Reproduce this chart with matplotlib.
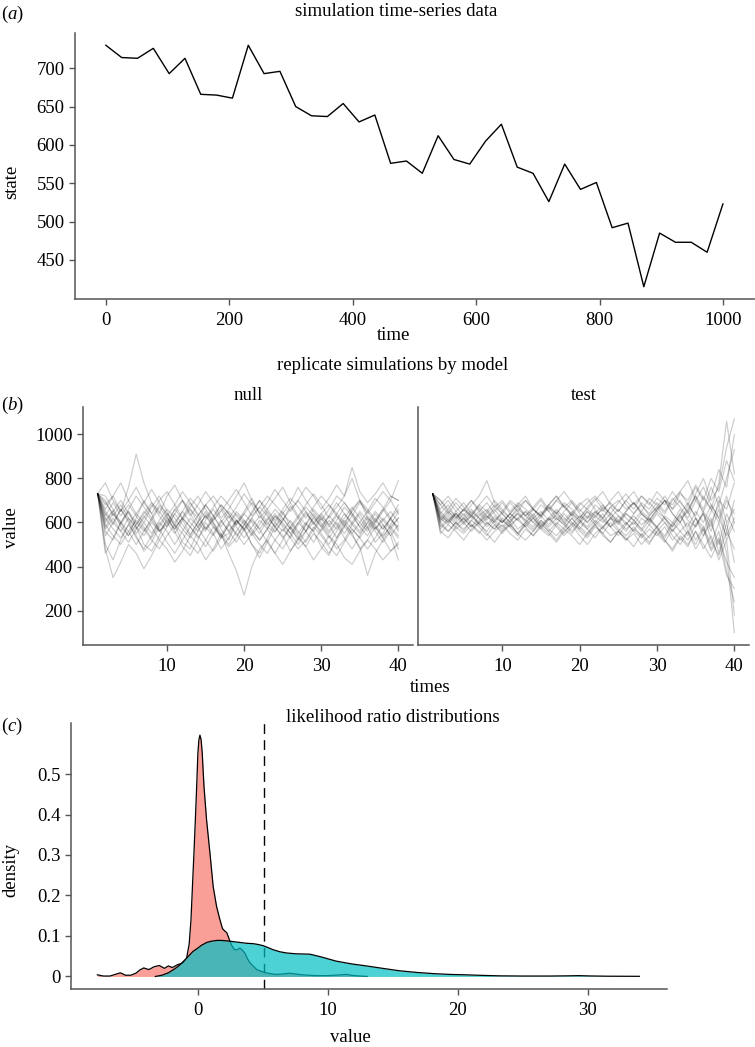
import matplotlib
matplotlib.use('Agg')
import matplotlib.pyplot as plt

plt.rcParams['font.family'] = ['Liberation Serif', 'DejaVu Serif']
plt.rcParams['mathtext.fontset'] = 'custom'
plt.rcParams['mathtext.rm'] = 'Liberation Serif'
plt.rcParams['mathtext.it'] = 'Liberation Serif:italic'

# ---------------- data ----------------
# (a) observed time series
obs_time = [0, 25.6, 51.3, 76.9, 102.6, 128.2, 153.8, 179.5, 205.1, 230.8,
            256.4, 282.1, 307.7, 333.3, 359.0, 384.6, 410.3, 435.9, 461.5, 487.2,
            512.8, 538.5, 564.1, 589.7, 615.4, 641.0, 666.7, 692.3, 717.9, 743.6,
            769.2, 794.9, 820.5, 846.2, 871.8, 897.4, 923.1, 948.7, 974.4, 1000]
obs_state = [730, 714, 713, 726, 693, 713, 666, 665, 661, 730,
             693, 696, 650, 638, 637, 654, 630, 639, 576, 579,
             563, 612, 581, 575, 605, 627, 571, 563, 526, 575,
             542, 551, 492, 498, 415, 485, 473, 473, 460, 523]

# (b) replicate simulations (times 1..40)
rep_times = list(range(1, 41))
null_runs = [
    [730,610,655,580,540,620,700,640,560,590,660,615,545,600,680,630,570,520,600,650,710,640,580,555,610,675,620,560,600,640,590,530,585,660,700,620,570,610,650,600],
    [730,560,520,600,650,580,500,470,540,620,590,510,480,560,640,600,530,550,610,570,500,460,530,600,650,580,520,560,630,590,540,480,520,590,640,580,510,550,620,560],
    [730,680,720,650,700,760,690,640,700,740,680,620,670,720,660,610,650,700,750,690,630,670,720,680,640,690,760,700,650,610,660,720,690,640,600,650,710,670,620,680],
    [730,500,430,520,590,540,470,510,580,630,560,490,450,520,600,550,480,530,610,570,500,440,510,580,540,470,520,590,560,490,450,530,600,550,480,520,580,530,470,500],
    [730,640,590,660,610,550,600,670,720,650,580,620,690,640,570,610,660,600,540,590,650,700,640,580,620,570,530,590,660,620,560,610,670,630,580,540,600,660,610,580],
    [730,780,700,650,760,910,780,690,640,720,770,700,630,680,740,690,620,660,720,780,700,640,690,750,700,650,700,760,720,660,710,770,720,850,740,690,730,780,720,700],
    [730,480,350,420,500,460,390,450,520,480,420,470,540,500,430,480,550,460,380,270,400,480,520,460,410,470,530,490,430,480,540,500,440,410,470,520,480,430,470,510],
    [730,620,570,530,590,640,600,550,610,660,620,570,530,580,630,590,540,600,650,610,560,520,570,630,600,550,500,560,620,580,530,580,640,600,560,620,590,540,580,620],
    [730,700,630,680,620,570,620,680,630,580,640,700,660,600,560,620,680,640,590,640,690,650,600,560,610,660,700,650,590,640,680,630,580,630,690,650,600,650,700,640],
    [730,540,600,660,600,530,480,540,600,560,500,560,620,580,520,470,530,590,550,500,550,610,570,520,480,540,600,560,510,570,630,590,530,480,540,600,560,510,560,480],
    [730,660,720,780,700,640,690,750,690,630,680,740,690,630,680,720,670,620,670,730,680,620,660,710,760,690,630,680,730,680,620,670,720,800,700,640,690,740,700,790],
    [730,590,540,500,560,610,570,520,480,540,590,550,500,460,520,580,540,490,530,590,550,500,460,520,570,530,480,520,580,540,490,450,510,570,530,480,530,590,540,430],
    [730,600,650,700,640,590,640,690,650,600,550,610,660,620,570,630,680,640,590,640,600,550,610,660,620,570,620,670,630,580,630,690,640,590,550,600,650,610,570,620],
    [730,720,660,600,540,590,650,610,560,600,660,700,640,580,630,580,530,590,640,600,540,590,650,600,560,610,560,510,570,630,590,640,690,640,580,630,580,530,590,650],
    [730,570,620,560,510,570,630,580,520,580,640,590,540,600,650,600,550,500,560,610,570,520,570,630,580,530,590,640,600,550,500,560,610,570,530,580,640,590,540,590],
    [730,650,600,560,620,580,540,600,560,610,570,620,580,530,580,540,600,650,610,560,610,570,620,580,640,600,550,600,560,620,580,630,590,550,600,560,610,570,620,660],
    [730,460,530,600,560,500,560,620,570,510,460,520,580,540,490,550,610,560,510,570,620,570,510,460,520,580,540,490,550,510,460,520,580,540,490,360,460,520,570,530],
    [730,690,640,600,660,720,670,620,680,640,590,650,710,670,620,670,720,680,630,590,640,700,660,610,660,710,670,620,670,720,680,640,600,650,700,660,610,660,720,700],
    [730,630,690,630,680,630,580,530,590,640,600,650,600,560,610,660,610,560,610,570,620,670,630,580,530,580,630,590,640,600,550,600,550,600,650,610,570,620,580,540],
    [730,580,640,590,650,600,560,610,670,620,570,620,580,630,680,630,580,630,580,530,580,630,590,640,590,550,600,650,600,560,610,570,620,670,620,570,620,570,620,570],
]
test_runs = [
    [730,640,600,650,620,580,630,660,610,640,600,650,610,580,630,670,620,590,640,610,650,600,570,620,660,620,590,640,600,650,620,580,640,690,620,560,650,720,600,660],
    [730,580,620,570,600,640,590,560,610,580,620,570,600,640,590,560,600,570,620,580,550,600,640,580,610,570,600,560,610,580,540,600,560,520,590,640,520,450,560,480],
    [730,680,640,690,650,700,660,620,670,700,650,690,660,630,680,650,700,670,630,680,710,660,620,670,700,660,690,650,710,680,640,700,740,680,760,700,800,740,880,790],
    [730,600,560,600,570,610,580,540,590,560,600,550,590,620,570,540,590,550,600,560,530,580,550,600,560,520,570,540,590,550,510,570,520,560,500,570,470,530,420,350],
    [730,620,660,630,590,630,670,630,600,650,620,660,630,600,640,680,640,610,650,620,660,630,600,640,610,650,690,640,610,660,700,640,600,680,630,720,660,600,700,640],
    [730,560,530,580,550,590,560,520,560,590,550,520,570,540,580,550,510,560,590,540,500,550,580,540,560,520,550,500,540,580,520,480,540,500,560,480,540,430,520,180],
    [730,660,700,650,690,640,680,720,670,640,690,650,700,660,630,680,720,670,640,690,660,700,740,680,650,700,660,720,680,740,700,660,730,700,770,710,660,780,1060,820],
    [730,620,590,640,600,630,590,620,660,610,580,620,650,600,570,620,590,640,600,570,620,650,610,580,630,600,560,620,590,640,600,560,620,650,580,640,560,660,520,600],
    [730,700,650,610,660,620,650,690,640,600,640,680,630,660,700,650,610,650,690,640,600,650,620,670,630,590,640,680,630,670,720,660,700,640,720,660,760,680,800,930],
    [730,590,560,600,640,590,550,600,570,610,580,540,590,560,610,570,540,580,620,570,540,590,550,510,560,600,560,530,570,540,580,520,560,600,520,580,480,560,380,240],
    [730,640,680,620,660,700,650,610,650,690,640,680,720,660,620,670,640,690,660,620,670,710,660,690,650,700,740,680,640,690,650,710,670,620,700,760,680,620,720,600],
    [730,610,640,600,560,610,640,600,570,620,590,550,600,630,580,610,650,600,560,600,630,590,620,580,540,590,630,590,620,570,530,590,640,560,620,540,600,500,640,560],
    [730,680,720,670,630,680,720,790,690,650,700,670,630,670,710,660,700,740,690,650,690,720,680,640,690,730,680,720,690,650,700,680,740,790,700,650,720,840,760,1000],
    [730,550,590,560,520,570,600,550,510,560,590,550,520,560,600,560,520,570,540,500,550,590,540,510,560,530,490,550,510,560,520,470,530,490,560,500,440,520,360,300],
    [730,630,600,640,610,650,620,590,630,600,640,610,580,620,650,610,630,600,640,610,580,630,660,620,590,640,610,650,620,580,630,600,660,610,580,650,600,680,560,700],
    [730,600,630,590,620,580,610,650,600,570,610,640,600,570,610,580,620,590,550,600,570,610,580,620,600,560,610,570,530,580,620,560,600,540,620,580,500,600,460,100],
    [730,700,660,710,670,630,680,650,700,660,620,670,700,660,630,680,720,670,700,660,620,680,650,700,740,680,640,690,660,710,680,740,690,650,730,800,700,760,940,1070],
    [730,650,610,580,620,660,620,580,620,600,640,610,650,620,580,620,660,620,590,630,600,640,680,630,600,640,610,570,630,670,620,580,630,580,650,600,680,620,540,620],
    [730,570,610,640,600,560,600,630,590,550,590,620,580,540,590,620,580,540,580,610,570,530,580,620,570,540,580,540,500,560,600,540,500,560,480,540,620,460,600,420],
    [730,610,650,620,660,630,600,640,680,640,600,640,610,660,630,590,640,680,630,600,650,620,670,640,600,650,690,640,610,660,700,640,600,660,720,640,580,700,660,780],
]

# (c) likelihood ratio densities
null_lr_x = [-7.77, -7.3, -6.8, -6.3, -6.0, -5.6, -5.2, -4.8, -4.5, -4.2, -3.8, -3.4, -3.0,
             -2.6, -2.3, -2.0, -1.6, -1.2, -0.9, -0.7, -0.56, -0.45, -0.33, -0.22, -0.12,
             -0.03, 0.05, 0.13, 0.22, 0.31, 0.44, 0.64, 0.90, 1.15, 1.41, 1.67, 1.87, 2.05,
             2.2, 2.35, 2.45, 2.6, 2.8, 3.0, 3.2, 3.4, 3.6, 3.8, 4.0, 4.5, 5.0, 5.5, 6.0,
             6.5, 7.0, 7.5, 8.0, 9.0, 10.0, 11.0, 11.4, 12.0, 13.0]
null_lr_d = [0.004, 0.001, 0.001, 0.006, 0.009, 0.003, 0.003, 0.008, 0.016, 0.021, 0.017, 0.024, 0.027,
             0.020, 0.026, 0.022, 0.029, 0.033, 0.045, 0.080, 0.140, 0.220, 0.305, 0.390, 0.470,
             0.550, 0.585, 0.596, 0.585, 0.550, 0.470, 0.387, 0.305, 0.222, 0.173, 0.140, 0.118, 0.112,
             0.108, 0.095, 0.086, 0.075, 0.066, 0.066, 0.070, 0.065, 0.057, 0.043, 0.033, 0.017, 0.011, 0.007, 0.005,
             0.006, 0.008, 0.006, 0.004, 0.002, 0.002, 0.004, 0.005, 0.002, 0.000]
test_lr_x = [-3.3, -2.8, -2.3, -1.9, -1.5, -1.15, -0.9, -0.64, -0.4, -0.12, 0.25, 0.65, 1.0, 1.42,
             1.8, 2.18, 2.7, 3.21, 3.7, 4.23, 4.6, 5.0, 5.4, 5.77, 6.28, 6.8, 7.5, 8.6, 9.5, 10.6,
             11.8, 12.95, 14.2, 15.5, 16.8, 18.1, 19.4, 20.6, 22.0, 23.2, 25.0, 27.0, 28.5, 29.3,
             30.2, 31.5, 33.97]
test_lr_d = [0.0, 0.003, 0.009, 0.017, 0.026, 0.037, 0.045, 0.054, 0.062, 0.068, 0.077, 0.084, 0.087, 0.089,
             0.089, 0.088, 0.086, 0.084, 0.082, 0.081, 0.079, 0.076, 0.071, 0.066, 0.061, 0.058, 0.056, 0.055, 0.048, 0.038,
             0.031, 0.026, 0.020, 0.014, 0.010, 0.007, 0.005, 0.004, 0.0025, 0.0015, 0.001, 0.001, 0.0015, 0.002,
             0.0012, 0.0006, 0.0003]
lr_threshold = 5.05

# ---------------- layout ----------------
W, H = 755, 1047
fig = plt.figure(figsize=(W / 100, H / 100), dpi=100)

FS = 13.5
SC = '#555555'

def box(l, t, r, b):
    return [l / W, 1 - b / H, (r - l) / W, (b - t) / H]

def ftext(x, y, s, **kw):
    fig.text(x / W, 1 - y / H, s, ha=kw.pop('ha', 'center'), va=kw.pop('va', 'center'),
             fontsize=kw.pop('fontsize', FS), **kw)

def style(ax):
    for s in ['top', 'right']:
        ax.spines[s].set_visible(False)
    for s in ['left', 'bottom']:
        ax.spines[s].set_color(SC)
        ax.spines[s].set_linewidth(1.1)
    ax.tick_params(length=4.5, width=1.0, color=SC, labelsize=FS, pad=3, labelcolor='black')
    ax.tick_params(axis='x', pad=5)

# ---- (a)
axa = fig.add_axes(box(75, 33, 755, 299))
style(axa)
axa.plot(obs_time, obs_state, color='black', lw=1.0)
axa.set_xlim(-50, 1052)
axa.set_ylim(399, 746)
axa.set_xticks([0, 200, 400, 600, 800, 1000])
axa.set_yticks([450, 500, 550, 600, 650, 700])
ftext(396, 12, 'simulation time-series data')
ftext(394, 335, 'time')
ftext(12, 182, 'state', rotation=90)
ftext(12, 14, r'$(\mathit{a})$')

# ---- (b)
axb1 = fig.add_axes(box(83, 407, 413, 645))
axb2 = fig.add_axes(box(418, 407, 749, 645))
for ax, runs, name in [(axb1, null_runs, 'null'), (axb2, test_runs, 'test')]:
    style(ax)
    for r in runs:
        ax.plot(rep_times, r, color='black', alpha=0.2, lw=0.85)
    ax.set_xlim(-0.9, 41.9)
    ax.set_ylim(44, 1124)
    ax.set_xticks([10, 20, 30, 40])
    ax.set_yticks([200, 400, 600, 800, 1000])
axb2.tick_params(axis='y', length=0, labelleft=False)
ftext(393, 366, 'replicate simulations by model')
ftext(248, 396, 'null')
ftext(583.5, 396, 'test')
ftext(430, 687, 'times')
ftext(12, 528, 'value', rotation=90)
ftext(12, 405, r'$(\mathit{b})$')

# ---- (c)
axc = fig.add_axes(box(71, 723, 667, 989))
style(axc)
axc.axvline(lr_threshold, color='black', lw=1.0, ls=(0, (7, 4.5)), zorder=1)
axc.fill_between(null_lr_x, null_lr_d, 0, color='#F8766D', alpha=0.7, lw=0, zorder=2)
axc.plot(null_lr_x, null_lr_d, color='black', lw=0.9, zorder=3)
axc.fill_between(test_lr_x, test_lr_d, 0, color='#00BFC4', alpha=0.7, lw=0, zorder=4)
axc.plot(test_lr_x, test_lr_d, color='black', lw=0.9, zorder=5)
axc.set_xlim(-9.8, 36.1)
axc.set_ylim(-0.031, 0.626)
axc.set_xticks([0, 10, 20, 30])
axc.set_yticks([0, 0.1, 0.2, 0.3, 0.4, 0.5])
axc.set_yticklabels(['0', '0.1', '0.2', '0.3', '0.4', '0.5'])
ftext(393, 717, 'likelihood ratio distributions')
ftext(350, 1037, 'value')
ftext(11, 870, 'density', rotation=90)
ftext(12, 726, r'$(\mathit{c})$')

fig.savefig('out.png', dpi=100)
